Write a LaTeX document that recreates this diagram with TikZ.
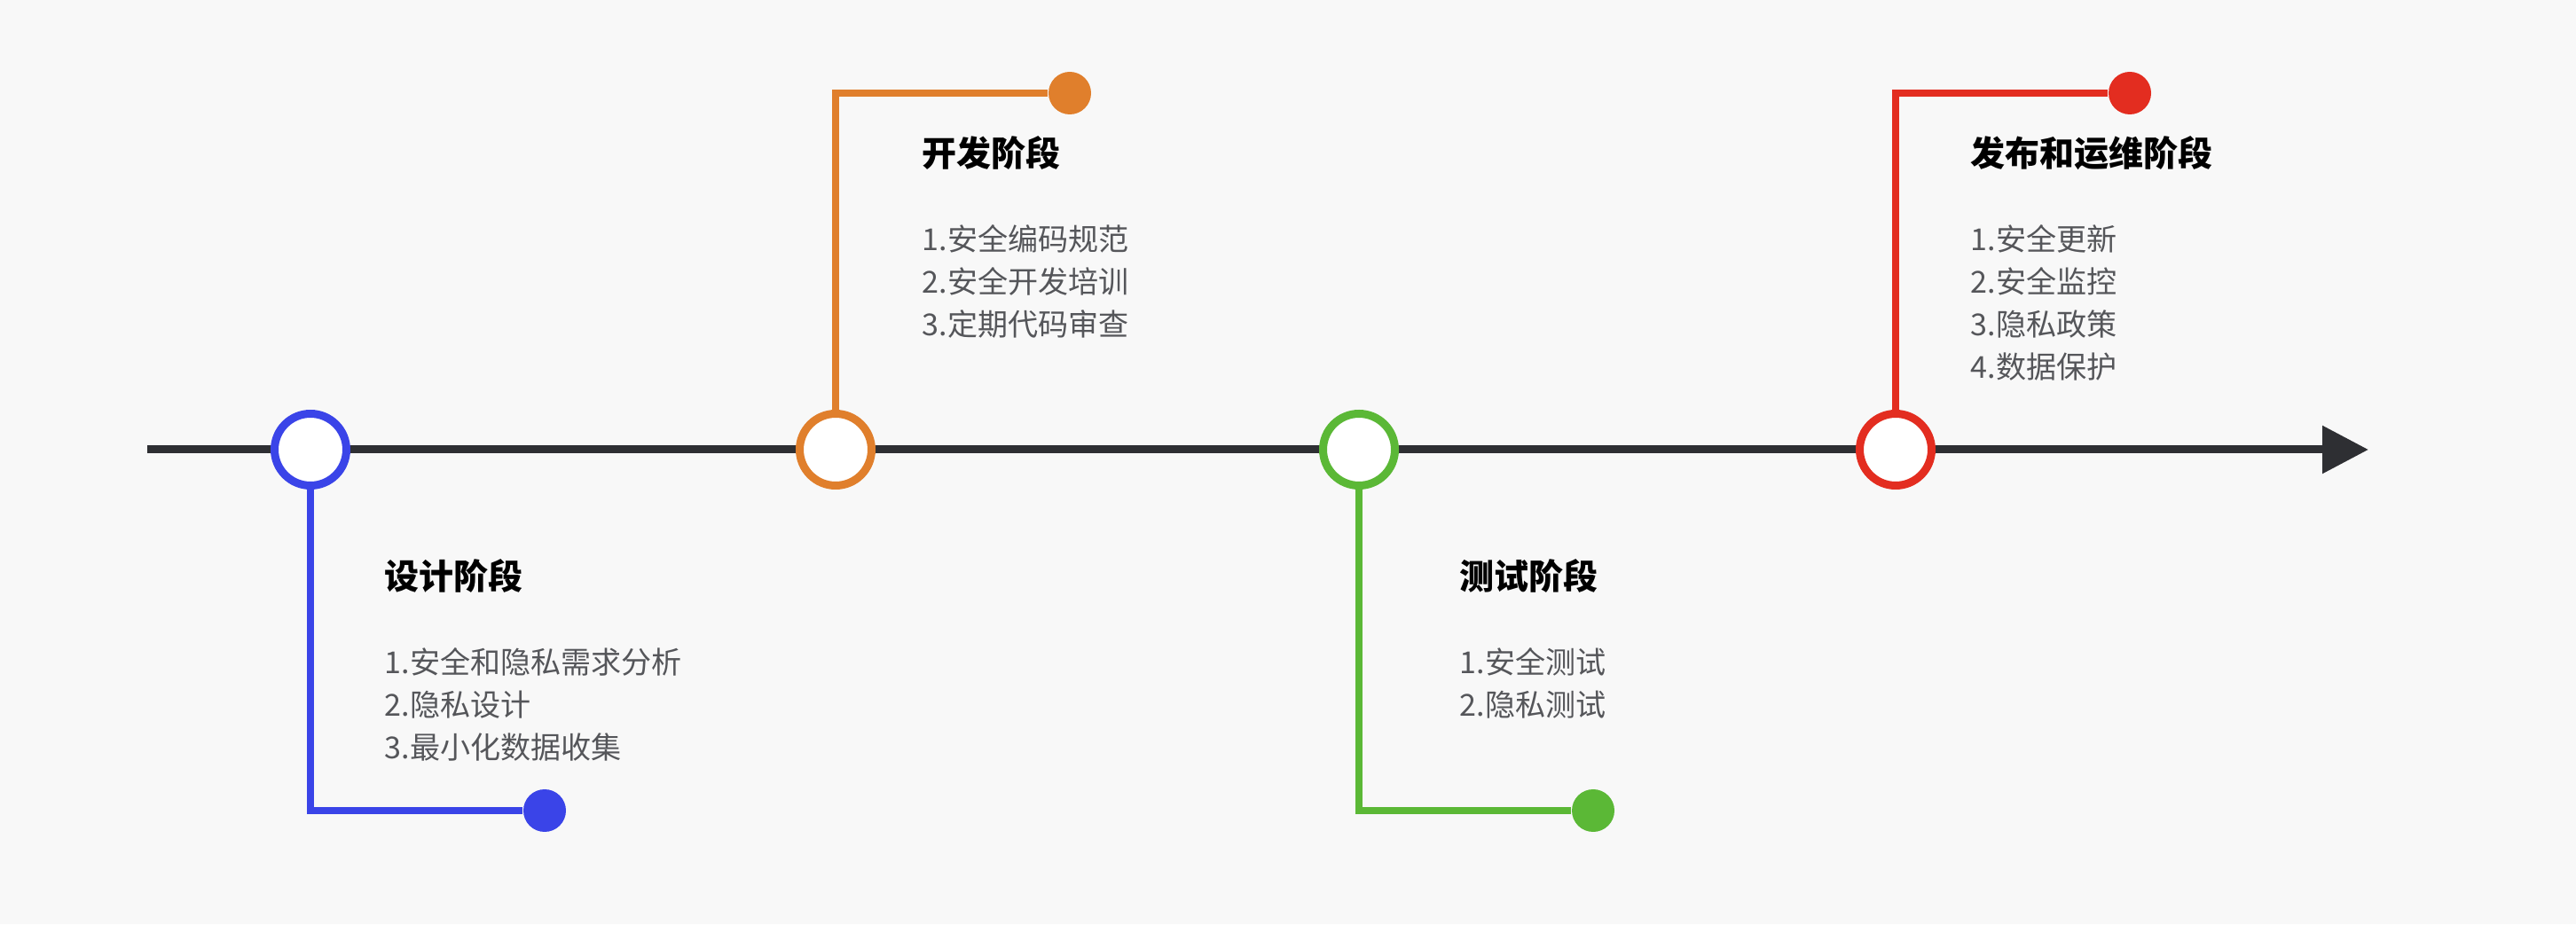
\documentclass[tikz,border=0pt]{standalone}
\usepackage{fontspec}
\setmainfont{Noto Sans CJK SC}
\usetikzlibrary{arrows.meta}
\definecolor{bgcol}{HTML}{F8F8F8}
\definecolor{axiscol}{HTML}{2E2F33}
\definecolor{itemcol}{HTML}{55565A}
\definecolor{bluecol}{HTML}{3A44E8}
\definecolor{orangecol}{HTML}{E07F2C}
\definecolor{greencol}{HTML}{5BB836}
\definecolor{redcol}{HTML}{E32D20}
\tikzset{
  stage/.style={circle, draw=#1, fill=white, line width=2.56pt, minimum size=0.81cm, inner sep=0pt},
  stageend/.style={circle, fill=#1, minimum size=0.48cm, inner sep=0pt},
  link/.style={draw=#1, line width=2.5pt},
  title/.style={anchor=base west, inner sep=0pt, font=\fontsize{11.1pt}{13pt}\selectfont\bfseries, text=black},
  item/.style={anchor=base west, inner sep=0pt, font=\fontsize{9.7pt}{13.7pt}\selectfont, text=itemcol}
}
\begin{document}
\begin{tikzpicture}
\fill[bgcol] (0,0) rectangle (29.04,10.42);
\useasboundingbox (0,0) rectangle (29.04,10.42);
% time axis
\coordinate (start) at (1.66,5.35);
\coordinate (tip) at (26.70,5.35);
\draw[axiscol, line width=2.56pt, -{Triangle[length=0.52cm, width=0.52cm]}] (start) -- (tip);
% stages on the axis
\node (des) at (3.50,5.35) [stage=bluecol] {};
\node (dev) at (9.42,5.35) [stage=orangecol] {};
\node (tst) at (15.32,5.35) [stage=greencol] {};
\node (ops) at (21.37,5.35) [stage=redcol] {};
% end dots
\node (des-end) at (6.14,1.28) [stageend=bluecol] {};
\node (dev-end) at (12.06,9.37) [stageend=orangecol] {};
\node (tst-end) at (17.96,1.28) [stageend=greencol] {};
\node (ops-end) at (24.01,9.37) [stageend=redcol] {};
\draw[link=bluecol] (des) |- (des-end);
\draw[link=orangecol] (dev) |- (dev-end);
\draw[link=greencol] (tst) |- (tst-end);
\draw[link=redcol] (ops) |- (ops-end);
% titles
\node (des-title) at (4.33,3.77) [title] {设计阶段};
\node (dev-title) at (10.39,8.54) [title] {开发阶段};
\node (tst-title) at (16.45,3.77) [title] {测试阶段};
\node (ops-title) at (22.21,8.54) [title] {发布和运维阶段};
% items
\foreach \t [count=\i] in {1.安全和隐私需求分析, 2.隐私设计, 3.最小化数据收集}
  \node (des-\i) at (4.33,3.30-\i*0.48) [item] {\t};
\foreach \t [count=\i] in {1.安全编码规范, 2.安全开发培训, 3.定期代码审查}
  \node (dev-\i) at (10.39,8.07-\i*0.48) [item] {\t};
\foreach \t [count=\i] in {1.安全测试, 2.隐私测试}
  \node (tst-\i) at (16.45,3.30-\i*0.48) [item] {\t};
\foreach \t [count=\i] in {1.安全更新, 2.安全监控, 3.隐私政策, 4.数据保护}
  \node (ops-\i) at (22.21,8.07-\i*0.48) [item] {\t};
\end{tikzpicture}
\end{document}
